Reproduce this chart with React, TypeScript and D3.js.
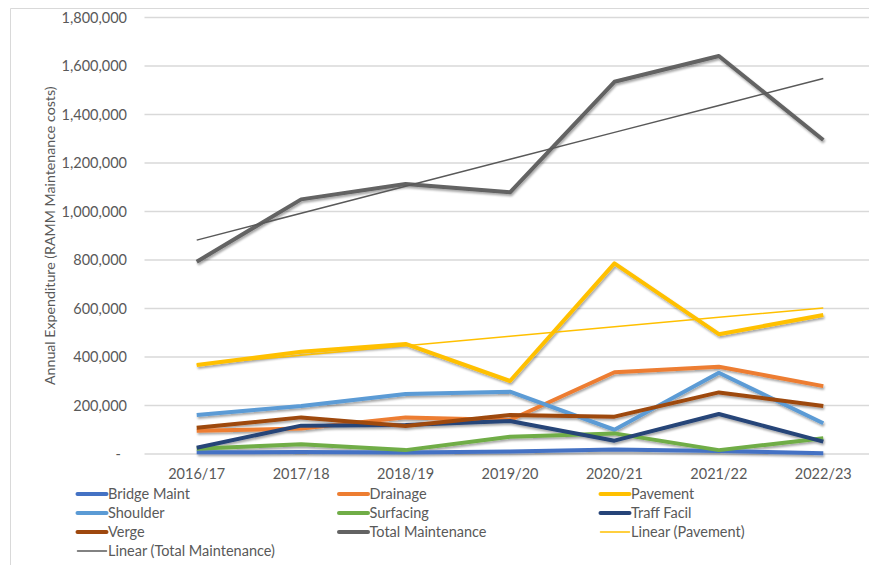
import React from "react";
import * as d3 from "d3";

const years = ["2016/17", "2017/18", "2018/19", "2019/20", "2020/21", "2021/22", "2022/23"];

const bridgeMaint = [7000, 8000, 6000, 10000, 19000, 12000, 3000];
const drainage = [96000, 105000, 151000, 140000, 337000, 360000, 280000];
const pavement = [367000, 422000, 454000, 301000, 786000, 494000, 573000];
const shoulder = [161000, 198000, 247000, 257000, 100000, 335000, 127000];
const surfacing = [22000, 40000, 16000, 71000, 85000, 16000, 65000];
const traffFacil = [26000, 117000, 120000, 136000, 55000, 165000, 51000];
const verge = [108000, 151000, 115000, 161000, 154000, 254000, 198000];
const totalMaint = [793000, 1050000, 1113000, 1079000, 1535000, 1641000, 1295000];

const yTicks = [0, 200000, 400000, 600000, 800000, 1000000, 1200000, 1400000, 1600000, 1800000];

const seriesNames = ["Bridge Maint", "Drainage", "Pavement", "Shoulder", "Surfacing", "Traff Facil", "Verge", "Total Maintenance"];
const seriesData = [bridgeMaint, drainage, pavement, shoulder, surfacing, traffFacil, verge, totalMaint];
const seriesColors = ["#4472C4", "#ED7D31", "#FFC000", "#5B9BD5", "#70AD47", "#264478", "#9E480E", "#636363"];

function linearFit(vals: number[]): number[] {
  const xs = vals.map((_, i) => i + 1);
  const mx = d3.mean(xs)!;
  const my = d3.mean(vals)!;
  let num = 0, den = 0;
  xs.forEach((x, i) => { num += (x - mx) * (vals[i] - my); den += (x - mx) ** 2; });
  const b = num / den;
  const a = my - b * mx;
  return xs.map((x) => a + b * x);
}

export default function App() {
  const W = 869, H = 565;
  const x = d3.scalePoint<string>().domain(years).range([144.5, 875.5]).padding(0.5);
  const y = d3.scaleLinear().domain([0, 1800000]).range([454, 17.5]);
  const line = d3.line<number>().x((_, i) => x(years[i])!).y((d) => y(d));
  const fmt = d3.format(",");
  const font = "Lato, 'Open Sans', sans-serif";
  const txt = "#595959";

  const trendPave = linearFit(pavement);
  const trendTotal = linearFit(totalMaint);

  const legendItems = [
    { name: "Bridge Maint", color: seriesColors[0], w: 4 },
    { name: "Drainage", color: seriesColors[1], w: 4 },
    { name: "Pavement", color: seriesColors[2], w: 4 },
    { name: "Shoulder", color: seriesColors[3], w: 4 },
    { name: "Surfacing", color: seriesColors[4], w: 4 },
    { name: "Traff Facil", color: seriesColors[5], w: 4 },
    { name: "Verge", color: seriesColors[6], w: 4 },
    { name: "Total Maintenance", color: seriesColors[7], w: 4 },
    { name: "Linear (Pavement)", color: "#FFC000", w: 1.5 },
    { name: "Linear (Total Maintenance)", color: "#595959", w: 1.5 },
  ];
  const colX = [77.5, 339, 600.5];
  const rowY = [494, 513, 532, 551];

  return (
    <svg width={W} height={H} style={{ position: "absolute", left: 0, top: 0, background: "#fff" }}>
      <defs>
        <filter id="sh" x="-10%" y="-10%" width="120%" height="130%">
          <feDropShadow dx="1" dy="2" stdDeviation="1.2" floodColor="#000" floodOpacity="0.35" />
        </filter>
      </defs>
      <rect x={0} y={0} width={W} height={H} fill="#fff" />
      <line x1={10.5} y1={8.5} x2={W} y2={8.5} stroke="#d9d9d9" />
      <line x1={10.5} y1={8.5} x2={10.5} y2={H} stroke="#d9d9d9" />

      {yTicks.map((t) => (
        <g key={t}>
          <line x1={144.5} x2={875.5} y1={y(t)} y2={y(t)} stroke="#d9d9d9" strokeWidth={1.3} />
          <text x={t === 0 ? 121 : 127} y={y(t)} dy="0.35em" textAnchor="end" fontFamily={font} fontSize={14.5} fill={txt}>
            {t === 0 ? "-" : fmt(t)}
          </text>
        </g>
      ))}

      <text transform={`translate(50,${(y(0) + y(1800000)) / 2}) rotate(-90)`} textAnchor="middle" dy="0.35em" fontFamily={font} fontSize={14.2} fill={txt}>
        Annual Expenditure (RAMM Maintenance costs)
      </text>

      {years.map((yr) => (
        <text key={yr} x={x(yr)} y={479} textAnchor="middle" fontFamily={font} fontSize={14.5} fill={txt}>{yr}</text>
      ))}

      <g filter="url(#sh)">
        {seriesData.map((d, i) => (
          <path key={seriesNames[i]} d={line(d)!} fill="none" stroke={seriesColors[i]} strokeWidth={4} strokeLinejoin="round" />
        ))}
      </g>
      <path d={line(trendPave)!} fill="none" stroke="#FFC000" strokeWidth={1.5} />
      <path d={line(trendTotal)!} fill="none" stroke="#595959" strokeWidth={1.5} />

      {legendItems.map((it, i) => {
        const cx = colX[i % 3];
        const cy = rowY[Math.floor(i / 3)];
        return (
          <g key={it.name}>
            <line x1={cx} x2={cx + 29} y1={cy} y2={cy} stroke={it.color} strokeWidth={it.w} strokeLinecap="round" />
            <text x={cx + 30.5} y={cy} dy="0.35em" fontFamily={font} fontSize={14.5} fill={txt}>{it.name}</text>
          </g>
        );
      })}
    </svg>
  );
}
